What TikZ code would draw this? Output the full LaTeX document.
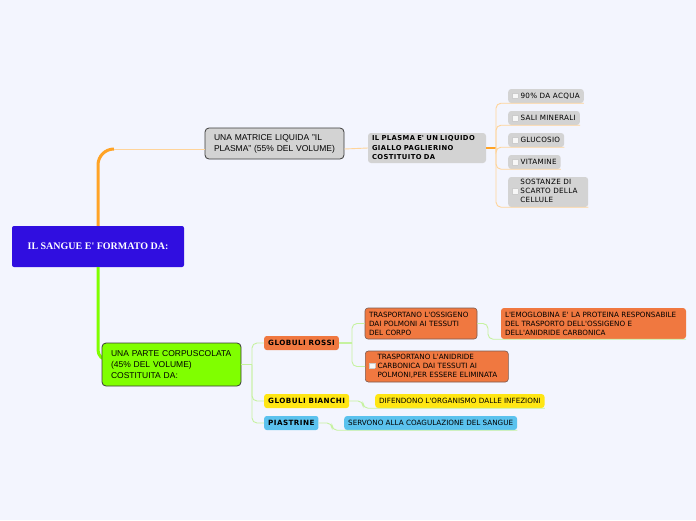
\documentclass[tikz,border=0pt]{standalone}
\usepackage{fontspec}
\setmainfont{Liberation Sans}
\newfontfamily\verd{DejaVu Sans}
\newfontfamily\verdsp{DejaVu Sans}[LetterSpace=4]
\newfontfamily\verdb{DejaVu Sans Bold}[LetterSpace=6]
\newfontfamily\rootfont{Liberation Serif}
\usetikzlibrary{positioning}
\definecolor{bgcol}{HTML}{F3F5FE}
\definecolor{rootblue}{HTML}{300EE0}
\definecolor{boxgray}{HTML}{D3D3D3}
\definecolor{plasmaor}{HTML}{FFA326}
\definecolor{plasmalight}{HTML}{FFD49A}
\definecolor{limegreen}{HTML}{80FF00}
\definecolor{lightgreen}{HTML}{C6F2A0}
\definecolor{redorange}{HTML}{F07840}
\definecolor{bianchiyel}{HTML}{FFE614}
\definecolor{piastblue}{HTML}{5BC2EE}
\definecolor{edgedark}{HTML}{3A3A3A}
\definecolor{edgebrown}{HTML}{7A5A50}
\newcommand{\ap}{\textquotesingle}
\newcommand{\chkbox}{{\setlength{\fboxsep}{0pt}\setlength{\fboxrule}{0.4pt}\fcolorbox{gray!40}{gray!6}{\rule{0pt}{5pt}\hspace{5pt}}}}

\begin{document}
\begin{tikzpicture}[x=1pt, y=-1pt,
  rootbox/.style={rectangle, rounded corners=2, fill=rootblue, text=white, font=\rootfont\bfseries\fontsize{10}{12}\selectfont, minimum width=172, minimum height=41},
  mainbox/.style={rectangle, rounded corners=4, draw=edgedark, line width=0.8pt, font=\fontsize{8.5}{11}\selectfont, align=left, inner xsep=9, inner ysep=3},
  greybox/.style={rectangle, rounded corners=3, fill=boxgray, font=\verdsp\fontsize{7.2}{9}\selectfont, align=left, inner xsep=4, inner ysep=0, minimum height=14},
  boldgrey/.style={greybox, font=\verdb\fontsize{6.8}{9.5}\selectfont},
  tagbox/.style={rectangle, rounded corners=2.5, font=\verdb\fontsize{7.2}{9}\selectfont, inner xsep=4, inner ysep=0, minimum height=14},
  notebox/.style={rectangle, rounded corners=3, font=\verd\fontsize{7.2}{9}\selectfont, align=left, inner xsep=4, inner ysep=0},
  trunkor/.style={draw=plasmaor, line width=3pt, rounded corners=16},
  plasmamid/.style={draw=plasmaor, line width=1.6pt},
  plasmaline/.style={draw=plasmalight, line width=0.9pt, rounded corners=5},
  trunkgr/.style={draw=limegreen, line width=3pt, rounded corners=10},
  greenmid/.style={draw=lightgreen, line width=1.8pt},
  greenline/.style={draw=lightgreen, line width=0.9pt, rounded corners=5}]
  \fill[bgcol] (0,0) rectangle (696,520);
  \useasboundingbox (0,0) rectangle (696,520);

  \node[rootbox] (sangue) at (98,246.5) {IL SANGUE E\ap{} FORMATO DA:};
  \coordinate (kmatrice) at (114,149);
  \coordinate (kparte) at (110,360);
  \draw[trunkor] (sangue.north) |- (kmatrice);
  \draw[trunkgr] (sangue.south) |- (kparte);

  \node[mainbox, fill=boxgray, text width=121, minimum height=31] (matrice) at (274.5,143.5) {UNA MATRICE LIQUIDA "IL\\PLASMA" (55\% DEL VOLUME)};
  \node[boldgrey, text width=110, minimum height=30] (plasma) at (427,148) {IL PLASMA E\ap{} UN LIQUIDO\\GIALLO PAGLIERINO\\COSTITUITO DA};
  \node[greybox, anchor=west] (acqua) at (508,96) {\chkbox\ 90\% DA ACQUA};
  \node[greybox, anchor=west] (sali) at (508,118) {\chkbox\ SALI MINERALI};
  \node[greybox, anchor=west] (glucosio) at (508,140) {\chkbox\ GLUCOSIO};
  \node[greybox, anchor=west] (vitamine) at (508,162) {\chkbox\ VITAMINE};
  \node[greybox, anchor=west, minimum height=30, text width=72] (scarto) at (508,192) {\chkbox\ \begin{tabular}{@{}l@{}}SOSTANZE DI\\SCARTO DELLA\\CELLULE\end{tabular}};

  \node[mainbox, fill=limegreen, text width=121, minimum height=43] (parte) at (171.5,364.5) {UNA PARTE CORPUSCOLATA\\(45\% DEL VOLUME)\\COSTITUITA DA:};
  \node[tagbox, fill=redorange, anchor=west] (rossi) at (264,343) {GLOBULI ROSSI};
  \node[tagbox, fill=bianchiyel, anchor=west] (bianchi) at (264,401) {GLOBULI BIANCHI};
  \node[tagbox, fill=piastblue, anchor=west] (piastrine) at (264,423) {PIASTRINE};
  \node[notebox, fill=redorange, draw=edgebrown, line width=0.6pt, text width=104, minimum height=31] (ossigeno) at (421,323.5) {TRASPORTANO L\ap{}OSSIGENO\\DAI POLMONI AI TESSUTI\\DEL CORPO};
  \node[notebox, fill=redorange, draw=edgebrown, line width=0.6pt, minimum height=31, text width=135, anchor=west] (anidride) at (365,366.5) {\chkbox\ \begin{tabular}{@{}l@{}}TRASPORTANO L\ap{}ANIDRIDE\\CARBONICA DAI TESSUTI AI\\POLMONI,PER ESSERE ELIMINATA\end{tabular}};
  \node[notebox, fill=redorange, text width=177, minimum height=31] (emoglobina) at (593.5,323.5) {L\ap{}EMOGLOBINA E\ap{} LA PROTEINA RESPONSABILE\\DEL TRASPORTO DELL\ap{}OSSIGENO E\\DELL\ap{}ANIDRIDE CARBONICA};
  \node[notebox, fill=bianchiyel, minimum height=14, anchor=west] (difendono) at (375,401) {DIFENDONO L\ap{}ORGANISMO DALLE INFEZIONI};
  \node[notebox, fill=piastblue, minimum height=14, anchor=west] (servono) at (344,423) {SERVONO ALLA COAGULAZIONE DEL SANGUE};

  \coordinate (kplasma) at (496,148);
  \draw[plasmaline] (kmatrice) -- (kmatrice -| matrice.west);
  \draw[plasmaline] (kmatrice -| matrice.east) -- (plasma.west);
  \draw[plasmamid] (plasma.east) -- (kplasma);
  \foreach \l in {acqua, sali, glucosio, vitamine, scarto}
    \draw[plasmaline] (kplasma) |- (\l.south west) -- (\l.south east);

  \coordinate (kgruppi) at (252,364.5);
  \coordinate (krossi) at (352,343);
  \coordinate (kossigeno) at (488,323.5);
  \coordinate (kbianchi) at (363,401);
  \coordinate (kpiastrine) at (332,423);
  \draw[greenline] (parte.east) -- (kgruppi);
  \foreach \t in {rossi, bianchi, piastrine}
    \draw[greenline] (kgruppi) |- (\t.west);
  \draw[greenmid] (rossi.east) -- (krossi);
  \draw[greenline] (krossi) |- (ossigeno.west);
  \draw[greenline] (krossi) |- (anidride.west);
  \draw[greenline] (ossigeno.east) -- (kossigeno) |- (emoglobina.south west) -- (emoglobina.south east);
  \draw[greenline] (bianchi.east) -- (kbianchi) |- (difendono.south west) -- (difendono.south east);
  \draw[greenline] (piastrine.east) -- (kpiastrine) |- (servono.south west) -- (servono.south east);
\end{tikzpicture}
\end{document}
